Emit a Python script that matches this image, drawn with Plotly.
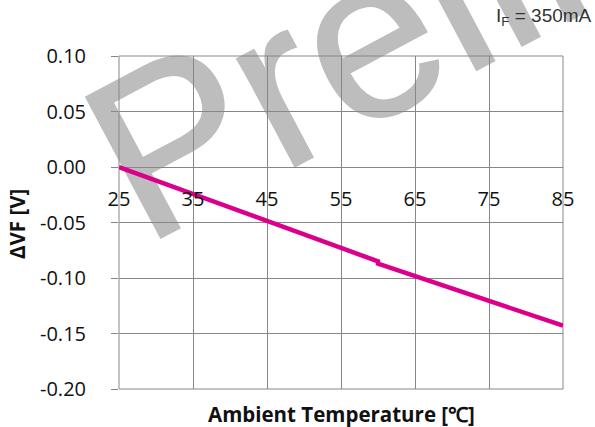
import base64
import plotly.graph_objects as go

# Forward-voltage shift vs. ambient temperature (IF = 350 mA)
temp_c = [25, 35, 45, 55, 60, 60, 65, 75, 85]
delta_vf = [0.000, -0.024, -0.049, -0.073, -0.085, -0.087, -0.098, -0.120, -0.143]

x_ticks = [25, 35, 45, 55, 65, 75, 85]
y_ticks = [0.10, 0.05, 0.00, -0.05, -0.10, -0.15, -0.20]
y_tick_text = ["0.10", "0.05", "0.00", "-0.05", "-0.10", "-0.15", "-0.20"]

W, H = 595, 427
L, R, T, B = 119, 32, 56, 38
PW, PH = W - L - R, H - T - B


def py(px_from_top):
    """Figure pixel row -> paper y fraction."""
    return (T + PH - px_from_top) / PH


def px(px_from_left):
    """Figure pixel column -> paper x fraction."""
    return (px_from_left - L) / PW


GRID = "#878787"
LINE = "#DA008C"
FONT = "Open Sans"
TEXT = "#111111"

# "Preliminary" watermark rendered as an SVG layer under the grid
wm_x, wm_y, wm_angle, wm_size = 144, 247, -28, 232
svg = (
    f'<svg xmlns="http://www.w3.org/2000/svg" width="{W}" height="{H}" viewBox="0 0 {W} {H}">'
    f'<text x="{wm_x}" y="{wm_y}" transform="rotate({wm_angle} {wm_x} {wm_y})" '
    f'font-family="Liberation Sans, Arial, sans-serif" font-size="{wm_size}" '
    f'fill="#BDBDBD" stroke="#BDBDBD" stroke-width="1.5">Preliminary</text>'
    f'</svg>'
)
svg_uri = "data:image/svg+xml;base64," + base64.b64encode(svg.encode()).decode()

fig = go.Figure()
fig.add_trace(go.Scatter(
    x=temp_c, y=delta_vf, mode="lines",
    line=dict(color=LINE, width=4.5),
    showlegend=False, hoverinfo="skip",
    cliponaxis=False,
))

fig.update_layout(
    width=W, height=H,
    margin=dict(l=L, r=R, t=T, b=B, pad=0),
    paper_bgcolor="white", plot_bgcolor="white",
    template="none",
    font=dict(family=FONT, size=20, color=TEXT),
    xaxis=dict(
        range=[25, 85], tickvals=x_ticks, ticktext=[str(v) for v in x_ticks],
        anchor="free", position=2 / 3,
        showgrid=True, gridcolor=GRID, gridwidth=1,
        zeroline=False, showline=False, ticks="",
        ticklabelstandoff=18, automargin=False,
        tickfont=dict(family=FONT, size=20, color=TEXT),
    ),
    yaxis=dict(
        range=[-0.2, 0.1], tickvals=y_ticks, ticktext=y_tick_text,
        showgrid=True, gridcolor=GRID, gridwidth=1,
        zeroline=False, showline=False,
        ticks="outside", ticklen=7, tickcolor=GRID, tickwidth=1,
        ticklabelstandoff=21, automargin=False,
        tickfont=dict(family=FONT, size=20, color=TEXT),
    ),
    images=[dict(
        source=svg_uri, xref="paper", yref="paper",
        x=-L / PW, y=1 + T / PH, sizex=W / PW, sizey=H / PH,
        xanchor="left", yanchor="top", sizing="stretch", layer="below",
    )],
    shapes=[dict(
        type="rect", xref="paper", yref="paper", x0=0, x1=1, y0=0, y1=1,
        line=dict(color=GRID, width=1), layer="below",
    )],
    annotations=[
        dict(text="<b>Ambient Temperature [℃]</b>", xref="paper", yref="paper",
             x=0.5, y=py(414), xanchor="center", yanchor="middle",
             showarrow=False, font=dict(family=FONT, size=20.5, color=TEXT)),
        dict(text="<b>ΔVF [V]</b>", xref="paper", yref="paper",
             x=px(17), y=py(224), xanchor="center", yanchor="middle",
             textangle=-90, showarrow=False,
             font=dict(family=FONT, size=20.5, color=TEXT)),
        dict(text="I<sub>F</sub> = 350mA", xref="paper", yref="paper",
             x=px(594), y=py(17), xanchor="right", yanchor="middle",
             showarrow=False, font=dict(family="Liberation Sans", size=19, color="#333333")),
    ],
)

fig.write_html("out.html")
